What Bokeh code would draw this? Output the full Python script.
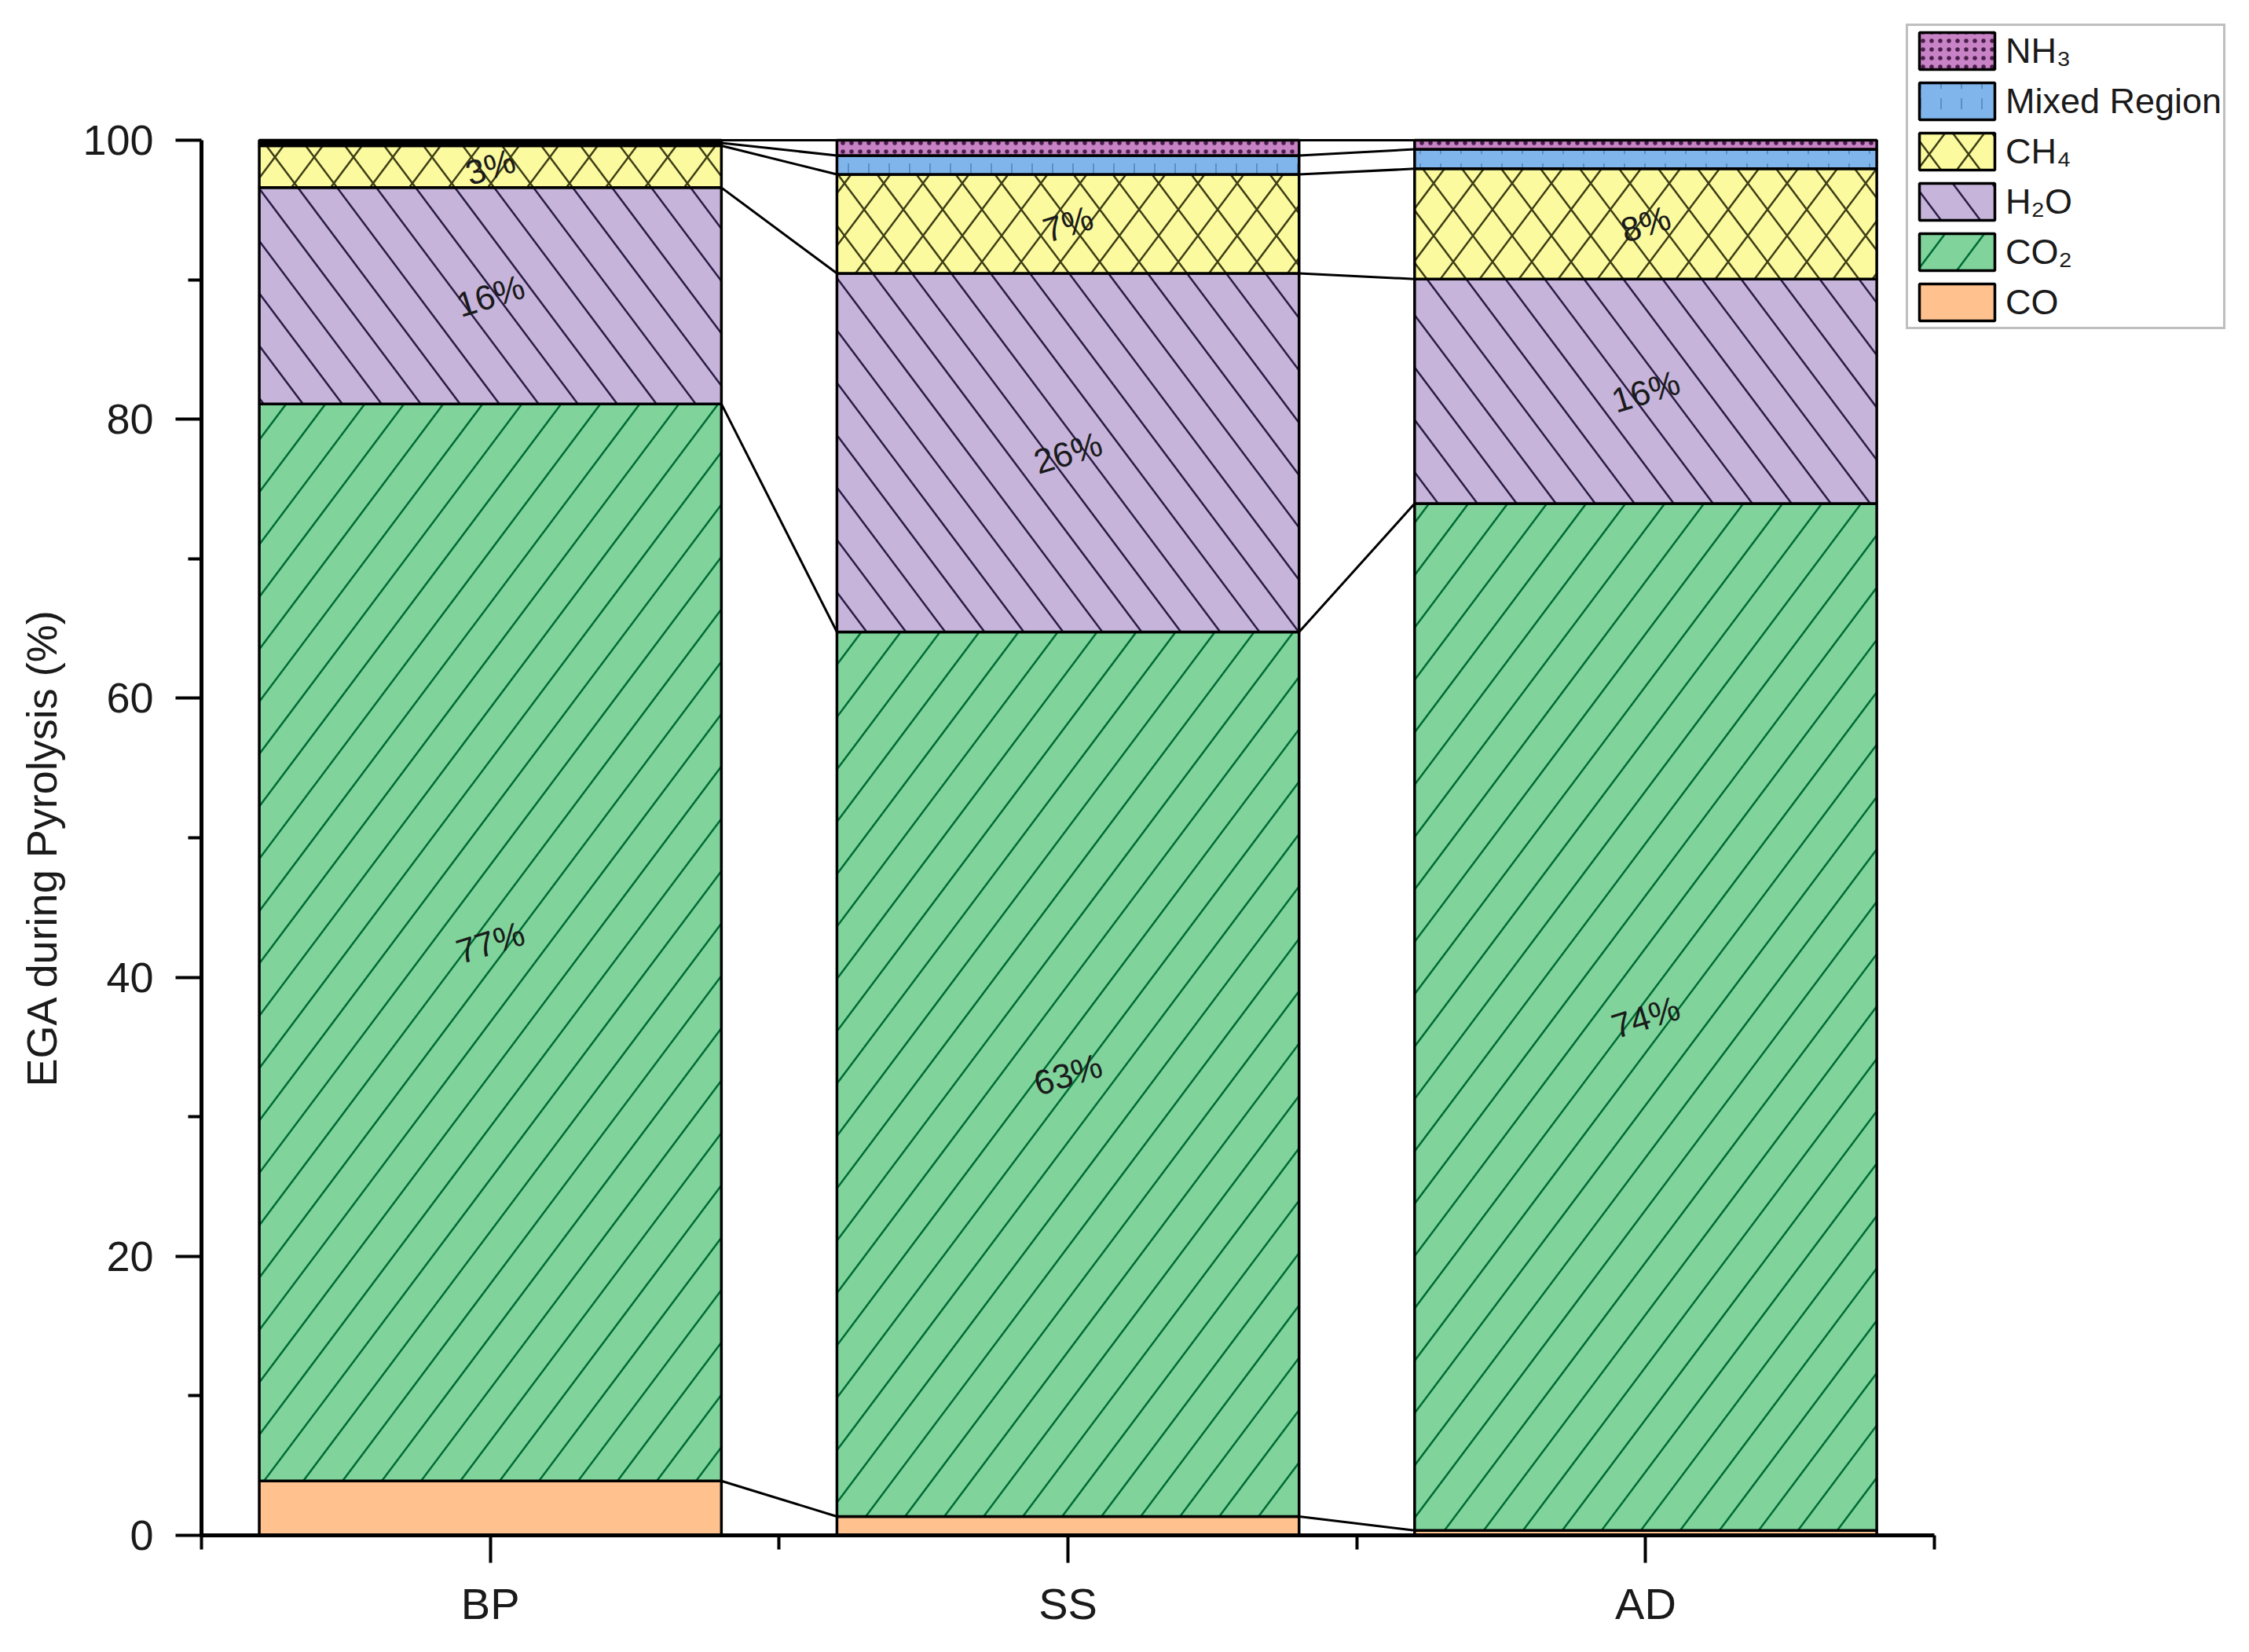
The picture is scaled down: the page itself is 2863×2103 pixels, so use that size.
import base64
import numpy as np
from bokeh.plotting import figure
from bokeh.models import (Range1d, FixedTicker, Legend, LegendItem, ColumnDataSource, Title,
                          ImageURLTexture)
from bokeh.core.properties import value
from bokeh.embed import file_html
from bokeh.resources import INLINE

# ---- data (percent of evolved gas) ----
categories = ["BP", "SS", "AD"]
series = ["CO", "CO₂", "H₂O", "CH₄", "Mixed Region", "NH₃"]
co = [3.9, 1.35, 0.35]
co2 = [77.2, 63.4, 73.6]
h2o = [15.5, 25.7, 16.1]
ch4 = [3.0, 7.1, 7.9]
mixed = [0.2, 1.35, 1.4]
nh3 = [0.2, 1.1, 0.65]
labelled = [False, True, True, True, False, False]
y_ticks = [0, 20, 40, 60, 80, 100]
y_minor = [10, 30, 50, 70, 90]

layers = [co, co2, h2o, ch4, mixed, nh3]

FONT = "Liberation Sans"


def hatch_tile(color, up, down):
    # 200x200 tile; lines 50 px apart horizontally, slope 4/3
    paths = []
    for k in range(-5, 6):
        x0 = k * 50
        if up:
            paths.append(f"M{x0 - 15},220 L{x0 + 165},-20")
        if down:
            paths.append(f"M{x0 - 15},-20 L{x0 + 165},220")
    svg = ('<svg xmlns="http://www.w3.org/2000/svg" width="200" height="200">'
           f'<path d="{" ".join(paths)}" stroke="{color}" stroke-width="2.5" fill="none"/></svg>')
    return ImageURLTexture(url="data:image/svg+xml;base64," +
                           base64.b64encode(svg.encode()).decode())


tex_up = hatch_tile("#006B35", True, False)
tex_down = hatch_tile("#2A1C45", False, True)
tex_cross = hatch_tile("#3E3E16", True, True)

styles = [
    dict(fill_color="#FFC28E"),
    dict(fill_color="#7FD39B", hatch_pattern=value("up"), hatch_extra={"up": tex_up}),
    dict(fill_color="#C6B4DB", hatch_pattern=value("down"), hatch_extra={"down": tex_down}),
    dict(fill_color="#FBFA9E", hatch_pattern=value("cross"), hatch_extra={"cross": tex_cross}),
    dict(fill_color="#80B5EC", hatch_pattern=":", hatch_color="#2E5F9E",
         hatch_scale=26, hatch_weight=1.5, hatch_alpha=0.6),
    dict(fill_color="#C882C6", hatch_pattern=".", hatch_color="#4A1E4A",
         hatch_scale=11, hatch_weight=1.5),
]

x = [1, 2, 3]

# frame: x 0.5..3.5 spans 2207 px, y 0..100 spans 1776 px; extra room above/right for legend
p = figure(width=2847, height=2087, output_backend="svg", toolbar_location=None,
           x_range=Range1d(0.5, 4.0097), y_range=Range1d(0, 110.02),
           min_border_left=255, min_border_right=10, min_border_top=0,
           min_border_bottom=133)
p.outline_line_color = None
p.xgrid.grid_line_color = None
p.ygrid.grid_line_color = None
p.background_fill_color = "white"

bottoms = np.zeros(3)
renderers = []
tops_all = []
for vals, st in zip(layers, styles):
    v = np.array(vals, dtype=float)
    tops = bottoms + v
    src = ColumnDataSource(dict(x=x, bottom=bottoms.tolist(), top=tops.tolist()))
    r = p.vbar(x="x", bottom="bottom", top="top", width=0.8, source=src,
               line_color="black", line_width=3.5, **st)
    renderers.append(r)
    tops_all.append(tops.copy())
    bottoms = tops

# connecting lines between adjacent bars
x0s, y0s, x1s, y1s = [], [], [], []
for tops in tops_all:
    for i in range(2):
        x0s.append(x[i] + 0.4); y0s.append(tops[i])
        x1s.append(x[i + 1] - 0.4); y1s.append(tops[i + 1])
p.segment(x0=x0s, y0=y0s, x1=x1s, y1=y1s, line_color="black", line_width=3)

# percentage labels
lx, ly, lt = [], [], []
bottoms = np.zeros(3)
for vals, lab in zip(layers, labelled):
    v = np.array(vals, dtype=float)
    if lab:
        for i in range(3):
            if v[i] >= 2.5:
                lx.append(x[i]); ly.append(bottoms[i] + v[i] / 2)
                lt.append(f"{int(round(v[i]))}%")
    bottoms = bottoms + v
p.text(x=lx, y=ly, text=lt, angle=0.3, text_align="center", text_baseline="middle",
       text_font=value(FONT), text_font_size="44px", text_color="#1A1A1A")

# axes
yax = p.yaxis[0]
yax.bounds = (0, 100)
yax.ticker = FixedTicker(ticks=y_ticks, minor_ticks=y_minor)
yax.major_label_text_font = FONT
yax.major_label_text_font_size = "54px"
yax.major_label_text_color = "#1A1A1A"
yax.major_label_standoff = 28
yax.major_tick_out = 33
yax.major_tick_in = 0
yax.minor_tick_out = 17
yax.minor_tick_in = 0
yax.axis_line_width = 5
yax.major_tick_line_width = 4
yax.minor_tick_line_width = 4

# y-axis title, centred on the 0-100 span of the axis
ytitle = Title(text="EGA during Pyrolysis (%)", align="left", offset=571,
               text_font=FONT, text_font_size="54px", text_font_style="normal",
               text_color="#1A1A1A", standoff=40)
p.add_layout(ytitle, "left")

xax = p.xaxis[0]
xax.bounds = (0.5, 3.5)
xax.ticker = FixedTicker(ticks=x, minor_ticks=[0.5, 1.5, 2.5, 3.5])
xax.major_label_overrides = {xi: c for xi, c in zip(x, categories)}
xax.major_label_text_font = FONT
xax.major_label_text_font_size = "56px"
xax.major_label_text_color = "#1A1A1A"
xax.major_label_standoff = 20
xax.major_tick_out = 35
xax.major_tick_in = 0
xax.minor_tick_out = 18
xax.minor_tick_in = 0
xax.axis_line_width = 5
xax.major_tick_line_width = 4
xax.minor_tick_line_width = 4

# legend (top item first)
items = [LegendItem(label=series[k], renderers=[renderers[k]]) for k in range(5, -1, -1)]
legend = Legend(items=items, location=(2170, 1535))
legend.border_line_color = "#808080"
legend.border_line_width = 3
legend.padding = 2
legend.spacing = 5
legend.glyph_width = 120
legend.glyph_height = 59
legend.label_height = 59
legend.label_standoff = 2
legend.label_text_font = FONT
legend.label_text_font_size = "45px"
legend.label_text_color = "#1A1A1A"
legend.background_fill_color = "white"
legend.background_fill_alpha = 1.0
p.add_layout(legend, "center")

open("out.html", "w").write(file_html(p, INLINE))
